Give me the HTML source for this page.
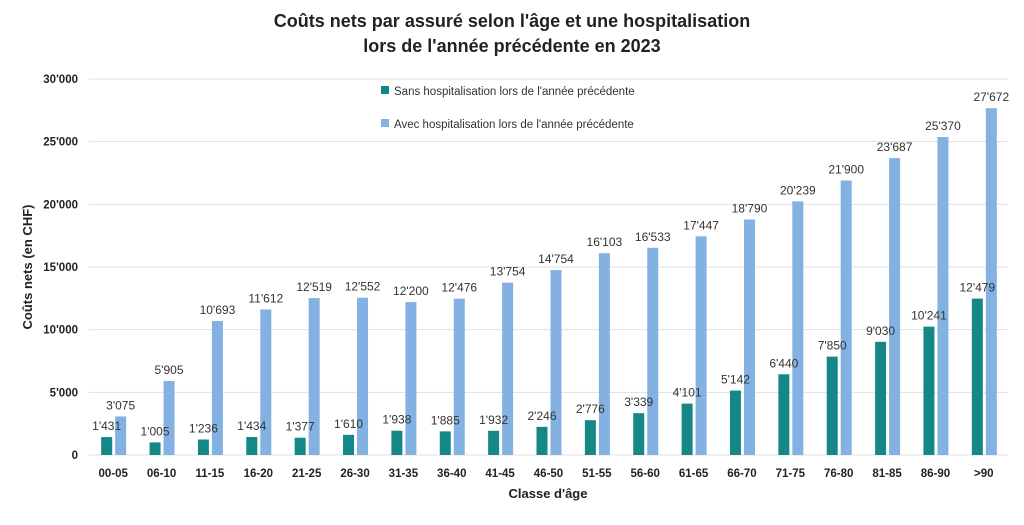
<!DOCTYPE html>
<html><head><meta charset="utf-8"><style>
body{margin:0;background:#fff;font-family:"Liberation Sans",sans-serif}
text{font-family:"Liberation Sans",sans-serif}
</style></head><body>
<svg id="chart" width="1024" height="520" xmlns="http://www.w3.org/2000/svg">
<text x="512" y="27" text-anchor="middle" font-size="18" font-weight="bold" fill="#222">Coûts nets par assuré selon l'âge et une hospitalisation</text>
<text x="512" y="52" text-anchor="middle" font-size="18" font-weight="bold" fill="#222">lors de l'année précédente en 2023</text>
<g id="grid"></g><g id="bars"></g>
<text transform="translate(32,267) rotate(-90)" text-anchor="middle" font-size="13" font-weight="bold" fill="#222">Coûts nets (en CHF)</text>
<text x="548" y="498" text-anchor="middle" font-size="13" font-weight="bold" fill="#222">Classe d'âge</text>
<g>
<rect x="381" y="86" width="8" height="8" fill="#168787"/>
<text x="394" y="95" font-size="11.5" fill="#333">Sans hospitalisation lors de l'année précédente</text>
<rect x="381" y="119" width="8" height="8" fill="#82b1e2"/>
<text x="394" y="128" font-size="11.5" fill="#333">Avec hospitalisation lors de l'année précédente</text>
</g>
</svg>
<script>
const categories=["00-05","06-10","11-15","16-20","21-25","26-30","31-35","36-40","41-45","46-50","51-55","56-60","61-65","66-70","71-75","76-80","81-85","86-90",">90"];
const sansValues=[1431,1005,1236,1434,1377,1610,1938,1885,1932,2246,2776,3339,4101,5142,6440,7850,9030,10241,12479];
const avecValues=[3075,5905,10693,11612,12519,12552,12200,12476,13754,14754,16103,16533,17447,18790,20239,21900,23687,25370,27672];
const yTicks=[0,5000,10000,15000,20000,25000,30000];
const NS="http://www.w3.org/2000/svg";
const x0=89,x1=1008,y0=455,y1=79,yMax=30000;
const band=(x1-x0)/categories.length;
const xC=i=>x0+band*(i+0.5);
const yS=v=>y0-(v/yMax)*(y0-y1);
const fmt=v=>{const s=String(v);return s.length>3?s.slice(0,-3)+"'"+s.slice(-3):s;};
function mk(tag,attrs,parent,txt){const e=document.createElementNS(NS,tag);for(const k in attrs)e.setAttribute(k,attrs[k]);if(txt!==undefined)e.textContent=txt;parent.appendChild(e);return e;}
const grid=document.getElementById('grid'),bars=document.getElementById('bars');
yTicks.forEach(t=>{
 const l=mk('line',{x1:x0,x2:x1,y1:yS(t),y2:yS(t),stroke:'#e0e0e0','stroke-width':1},grid);
 
 
 const tx=mk('text',{x:78,y:yS(t)+4,'text-anchor':'end','font-size':11.5,'font-weight':'bold',fill:'#222'},grid,t===0?"0":fmt(t));
 
 
});
categories.forEach((c,i)=>{
 const cx=xC(i);
 const b1=mk('rect',{x:cx-12,y:yS(sansValues[i]),width:11,height:y0-yS(sansValues[i]),fill:'#168787'},bars);
 
 
 const b2=mk('rect',{x:cx+2,y:yS(avecValues[i]),width:11,height:y0-yS(avecValues[i]),fill:'#82b1e2'},bars);
 
 
 const l1=mk('text',{x:cx-6.5,y:yS(sansValues[i])-7,'text-anchor':'middle','font-size':12,fill:'#333'},bars,fmt(sansValues[i]));
 
 
 const l2=mk('text',{x:cx+7.5,y:yS(avecValues[i])-7,'text-anchor':'middle','font-size':12,fill:'#333'},bars,fmt(avecValues[i]));
 
 
 const xl=mk('text',{x:cx,y:477,'text-anchor':'middle','font-size':11.5,'font-weight':'bold',fill:'#222'},bars,c);
 
 
});
</script>
</body></html>
